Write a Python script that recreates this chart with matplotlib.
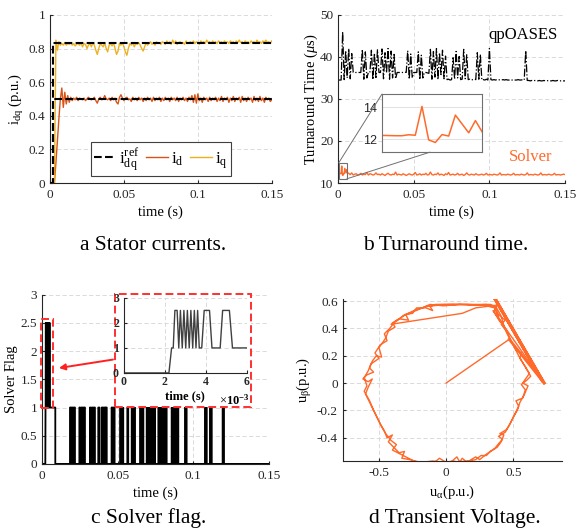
import matplotlib
matplotlib.use('Agg')
import matplotlib.pyplot as plt
import numpy as np
from matplotlib.patches import Rectangle, ConnectionPatch
from matplotlib.ticker import FormatStrFormatter

plt.rcParams['font.family'] = 'Liberation Serif'
plt.rcParams['mathtext.fontset'] = 'custom'
plt.rcParams['mathtext.rm'] = 'Liberation Serif'
plt.rcParams['mathtext.it'] = 'Liberation Serif:italic'
plt.rcParams['mathtext.bf'] = 'Liberation Serif:bold'
plt.rcParams['axes.unicode_minus'] = False

# ---- (a) stator currents, sampled every 1 ms ----
t_step = 0.001
iq = [0, 0, 0, 0, 0.85, 0.79, 0.84, 0.82, 0.83, 0.82,
      0.835, 0.82, 0.83, 0.825, 0.835, 0.82, 0.83, 0.815, 0.825, 0.83,
      0.82, 0.835, 0.81, 0.83, 0.825, 0.80, 0.82, 0.83, 0.81, 0.835,
      0.82, 0.79, 0.765, 0.80, 0.83, 0.82, 0.81, 0.835, 0.80, 0.78,
      0.82, 0.83, 0.815, 0.835, 0.80, 0.765, 0.785, 0.83, 0.82, 0.835,
      0.81, 0.78, 0.76, 0.80, 0.83, 0.82, 0.835, 0.81, 0.83, 0.825,
      0.835, 0.82, 0.80, 0.785, 0.81, 0.835, 0.82, 0.83, 0.84, 0.825,
      0.835, 0.82, 0.84, 0.83, 0.835, 0.825, 0.84, 0.835, 0.825, 0.845,
      0.83, 0.84, 0.825, 0.85, 0.83, 0.845, 0.825, 0.835, 0.84, 0.83,
      0.835, 0.825, 0.845, 0.83, 0.835, 0.84, 0.83, 0.845, 0.83, 0.84,
      0.835, 0.825, 0.845, 0.835, 0.84, 0.83, 0.85, 0.835, 0.84, 0.83,
      0.845, 0.835, 0.84, 0.83, 0.845, 0.835, 0.84, 0.83, 0.845, 0.835,
      0.84, 0.83, 0.845, 0.835, 0.84, 0.83, 0.845, 0.835, 0.85, 0.835,
      0.84, 0.83, 0.845, 0.835, 0.84, 0.83, 0.845, 0.835, 0.84, 0.83,
      0.85, 0.835, 0.84, 0.83, 0.845, 0.835, 0.85, 0.835, 0.84, 0.83,
      0.845]
i_d = [0, 0, 0, 0, 0.12, 0.25, 0.38, 0.50, 0.565, 0.45,
       0.54, 0.47, 0.52, 0.48, 0.51, 0.49, 0.505, 0.495, 0.51, 0.49,
       0.505, 0.50, 0.495, 0.505, 0.49, 0.50, 0.51, 0.50, 0.495, 0.50,
       0.51, 0.49, 0.475, 0.50, 0.51, 0.495, 0.50, 0.52, 0.50, 0.495,
       0.505, 0.49, 0.51, 0.495, 0.505, 0.48, 0.47, 0.51, 0.525, 0.505,
       0.49, 0.505, 0.51, 0.495, 0.50, 0.485, 0.51, 0.495, 0.505, 0.49,
       0.51, 0.495, 0.505, 0.485, 0.505, 0.49, 0.51, 0.495, 0.505, 0.485,
       0.51, 0.49, 0.505, 0.495, 0.51, 0.485, 0.505, 0.49, 0.51, 0.495,
       0.505, 0.485, 0.51, 0.495, 0.505, 0.49, 0.51, 0.485, 0.505, 0.495,
       0.51, 0.49, 0.505, 0.485, 0.51, 0.495, 0.52, 0.48, 0.525, 0.475,
       0.53, 0.49, 0.505, 0.48, 0.51, 0.495, 0.505, 0.485, 0.51, 0.49,
       0.505, 0.495, 0.51, 0.485, 0.505, 0.49, 0.515, 0.485, 0.505, 0.495,
       0.51, 0.48, 0.505, 0.49, 0.515, 0.485, 0.505, 0.495, 0.51, 0.48,
       0.515, 0.49, 0.505, 0.485, 0.51, 0.495, 0.505, 0.48, 0.515, 0.49,
       0.505, 0.485, 0.515, 0.49, 0.505, 0.48, 0.51, 0.495, 0.505, 0.485,
       0.495]
ref_t = [0, 0.002, 0.002, 0.15]
ref_q = [0, 0, 0.833, 0.833]
ref_d = [0, 0, 0.5, 0.5]

# ---- (b) turnaround time (us), 1 ms samples ----
qp_time = [34.5, 34.5, 34.5, 46.0, 34.6, 41.5, 35.0, 42.0, 34.8, 40.8,
           36.3, 36.3, 36.3, 36.3, 36.3, 36.3, 41.8, 34.7, 41.2, 35.0,
           36.3, 36.3, 41.6, 34.6, 40.9, 35.1, 41.7, 36.3, 36.3, 41.9,
           34.8, 41.0, 36.2, 42.0, 34.7, 41.4, 35.0, 40.6, 34.8, 36.3,
           36.3, 36.3, 36.3, 36.3, 36.4, 36.3, 41.5, 34.7, 40.7, 35.0,
           36.3, 36.3, 36.3, 41.2, 34.6, 40.4, 35.0, 36.3, 36.3, 36.2,
           36.1, 41.8, 34.7, 41.3, 35.2, 42.0, 34.6, 41.0, 35.8, 41.6,
           34.8, 40.2, 34.6, 34.7, 34.5, 34.6, 39.8, 34.7, 41.3, 35.0,
           40.1, 34.6, 34.7, 41.8, 34.8, 40.5, 34.6, 34.7, 34.5, 34.6,
           34.7, 34.6, 41.0, 34.7, 40.6, 34.5, 34.6, 34.5, 34.7, 34.5,
           42.0, 34.6, 34.5, 34.6, 34.5, 34.6, 34.5, 34.6, 34.5, 34.6,
           34.5, 34.6, 34.5, 34.5, 34.6, 34.5, 34.6, 34.5, 34.5, 34.6,
           34.5, 34.5, 34.6, 34.5, 41.5, 34.4, 34.4, 34.3, 34.4, 34.3,
           34.4, 34.3, 34.3, 34.4, 34.3, 34.3, 34.4, 34.3, 34.3, 34.4,
           34.3, 34.3, 34.4, 34.3, 34.3, 34.4, 34.3, 34.3, 34.4, 34.3,
           34.3]
# solver: first 6 ms sampled every 0.4 ms, then every 1 ms from 7 ms
solver_early = [12.24, 12.23, 12.22, 12.22, 12.28, 12.25, 14.04, 11.96,
                11.80, 12.29, 12.20, 13.50, 12.95, 12.40, 13.16, 12.46]
solver_late = [12.3, 12.0, 12.4, 11.9, 12.1, 12.2, 11.9, 12.0, 12.3, 11.9,
               12.1, 12.0, 12.5, 11.9, 12.2, 12.1, 11.9, 12.0, 12.4, 12.0,
               12.1, 11.9, 12.2, 12.0, 11.8, 12.1, 12.3, 12.0, 11.9, 12.1,
               12.0, 12.6, 11.9, 12.1, 12.0, 11.9, 12.2, 12.0, 11.8, 12.0,
               12.2, 12.0, 11.9, 12.1, 12.5, 11.9, 12.0, 12.2, 11.9, 12.1,
               12.0, 12.3, 11.9, 12.0, 12.6, 12.0, 11.9, 12.1, 12.0, 12.4,
               11.9, 12.1, 12.0, 11.8, 12.2, 12.0, 12.5, 11.9, 12.0, 12.1,
               11.9, 12.0, 12.3, 11.9, 12.0, 12.1, 11.8, 12.0, 12.4, 12.0,
               11.9, 12.1, 12.0, 11.9, 12.2, 12.0, 11.9, 12.0, 12.1, 11.9,
               12.0, 12.3, 11.9, 12.0, 12.0, 11.9, 12.1, 12.0, 11.9, 12.0,
               12.4, 11.9, 12.0, 12.0, 11.9, 12.1, 12.0, 11.9, 12.0, 12.3,
               11.9, 12.0, 12.0, 11.9, 12.1, 12.0, 11.9, 12.0, 12.4, 11.9,
               12.0, 12.0, 11.9, 12.1, 12.0, 11.9, 12.0, 12.4, 11.9, 12.0,
               12.0, 11.9, 12.1, 12.0, 11.9, 12.0, 12.3, 11.9, 12.0, 12.0,
               11.9, 12.0, 12.1, 12.0]

# ---- (c) solver flag ----
burst_t_ms = [0, 2.2, 2.33, 2.41, 2.49, 2.60, 2.68, 2.76, 2.85, 2.93, 3.02, 3.10,
              3.19, 3.27, 3.36, 3.44, 3.52, 3.60, 3.68, 3.80, 3.92, 4.18, 4.30,
              4.70, 4.82, 5.15, 5.30, 6.0]
burst_flag = [0, 0, 1, 1, 2.5, 2.5, 1, 2.5, 1, 2.5, 1, 2.5, 1, 2.5, 1, 2.5, 1,
              2.5, 1, 1, 2.5, 2.5, 1, 1, 2.5, 2.5, 1, 1]
pulse_on = [0.0185, 0.0198, 0.0210, 0.0247, 0.0260, 0.0275, 0.0317, 0.0330,
            0.0343, 0.0372, 0.0395, 0.0412, 0.0423, 0.0460, 0.0473, 0.0516,
            0.0530, 0.0564, 0.0593, 0.0608, 0.0648, 0.0663, 0.0692, 0.0705,
            0.0718, 0.0730, 0.0742, 0.0769, 0.0791, 0.0803, 0.0816, 0.0857,
            0.0879, 0.0893, 0.0945, 0.1077, 0.1110, 0.1194]
pulse_off = [0.0192, 0.0203, 0.0218, 0.0252, 0.0268, 0.0284, 0.0322, 0.0336,
             0.0350, 0.0380, 0.0405, 0.0418, 0.0428, 0.0466, 0.0480, 0.0522,
             0.0537, 0.0570, 0.0600, 0.0615, 0.0655, 0.0670, 0.0698, 0.0712,
             0.0725, 0.0738, 0.0747, 0.0780, 0.0797, 0.0810, 0.0824, 0.0868,
             0.0885, 0.0901, 0.0956, 0.1089, 0.1122, 0.1203]

# ---- (d) transient voltage trajectory ----
u_alpha = [0.00, 0.47, 0.73, 0.36, 0.72, 0.37, 0.73, 0.35, 0.40, 0.43, 0.41, 0.37, 0.33,
           0.20, 0.05, -0.08, -0.12, -0.10, -0.15, -0.22, -0.25, -0.30, -0.28, -0.35, -0.40,
           -0.38, -0.43, -0.45, -0.47, -0.50, -0.48, -0.52, -0.55, -0.57, -0.54, -0.59, -0.62,
           -0.58, -0.55, -0.58, -0.60, -0.58, -0.55, -0.52, -0.49, -0.46, -0.44, -0.40, -0.43,
           -0.39, -0.35, -0.31, -0.33, -0.27, -0.22, -0.15, -0.08, -0.05, 0.00, 0.05, 0.10,
           0.12, 0.15, 0.22, 0.26, 0.30, 0.33, 0.38, 0.41, 0.43, 0.40, 0.45, 0.48, 0.51,
           0.54, 0.52, 0.57, 0.59, 0.56, 0.60, 0.63, 0.60, 0.57, 0.54, 0.51, 0.47, 0.44,
           0.41, 0.44, 0.39, 0.36, 0.30,
           0.18, 0.10, -0.02, -0.12, -0.18, -0.24, -0.32, -0.38, -0.42, -0.46, -0.44, -0.49,
           -0.53, -0.50, -0.56, -0.58, -0.61, -0.59, -0.61, -0.57, -0.54, -0.51, -0.48, -0.45,
           -0.41, -0.37, -0.40, -0.34, -0.29, -0.24, -0.18, -0.10, -0.03, 0.04, 0.08, 0.10,
           0.17, 0.22, 0.25, 0.30, 0.36, 0.42, 0.39, 0.44, 0.47, 0.50, 0.53, 0.55, 0.58,
           0.61, 0.57, 0.62, 0.59, 0.55, 0.56, 0.52, 0.49, 0.46, 0.43, 0.39, 0.36, 0.28,
           0.15, -0.05, -0.15, -0.25, -0.31, -0.36, -0.41, 0.12, 0.22, 0.38, 0.36]
u_beta = [0.00, 0.32, 0.00, 0.62, 0.01, 0.61, 0.00, 0.53, 0.45, 0.42, 0.49, 0.56, 0.575,
          0.575, 0.578, 0.575, 0.56, 0.53, 0.55, 0.55, 0.51, 0.50, 0.46, 0.47, 0.44,
          0.41, 0.38, 0.33, 0.30, 0.26, 0.19, 0.20, 0.16, 0.11, 0.08, 0.06, 0.03,
          0.01, 0.03, -0.03, -0.08, -0.12, -0.18, -0.24, -0.30, -0.35, -0.40, -0.38, -0.43,
          -0.47, -0.51, -0.50, -0.55, -0.56, -0.575, -0.58, -0.575, -0.55, -0.58, -0.57, -0.58,
          -0.55, -0.575, -0.56, -0.53, -0.53, -0.50, -0.47, -0.43, -0.38, -0.37, -0.34, -0.29, -0.23,
          -0.17, -0.13, -0.11, -0.05, -0.01, 0.02, 0.05, 0.10, 0.15, 0.20, 0.26, 0.33, 0.39,
          0.43, 0.46, 0.50, 0.56, 0.575,
          0.57, 0.575, 0.565, 0.575, 0.55, 0.53, 0.49, 0.45, 0.40, 0.36, 0.31, 0.28,
          0.22, 0.18, 0.14, 0.09, 0.04, -0.02, -0.06, -0.13, -0.20, -0.26, -0.32, -0.37,
          -0.42, -0.45, -0.49, -0.52, -0.545, -0.57, -0.58, -0.57, -0.58, -0.575, -0.54, -0.575,
          -0.57, -0.54, -0.56, -0.52, -0.48, -0.41, -0.39, -0.36, -0.31, -0.25, -0.20, -0.14, -0.09,
          -0.02, 0.00, 0.07, 0.12, 0.18, 0.22, 0.24, 0.30, 0.36, 0.42, 0.48, 0.55, 0.57,
          0.575, 0.57, 0.56, 0.52, 0.50, 0.46, 0.43, 0.51, 0.55, 0.57, 0.53]

col_d = '#D95319'
col_q = '#EDB120'
col_or = '#FF6A2B'
grid_kw = dict(color='#d4d4d4', linestyle=(0, (5, 3)), linewidth=0.6)


def style(ax, fs=9.5, pad=4.5):
    ax.spines[['top', 'right']].set_visible(False)
    for s in ['left', 'bottom']:
        ax.spines[s].set_color('#262626')
        ax.spines[s].set_linewidth(0.8)
    ax.tick_params(direction='in', length=2.5, labelsize=fs, colors='#262626')
    ax.tick_params(axis='x', pad=pad)
    ax.grid(True, **grid_kw)
    ax.set_axisbelow(True)


fig = plt.figure(figsize=(5.76, 5.32), dpi=100)

# (a)
ax_a = fig.add_axes([0.0868, 0.656, 0.385, 0.316])
t_a = np.arange(len(iq)) * t_step
l_ref, = ax_a.plot(ref_t, ref_q, '--', color='black', lw=1.5, zorder=4)
ax_a.plot(ref_t, ref_d, '--', color='black', lw=1.5, zorder=4)
l_d, = ax_a.plot(t_a, i_d, color=col_d, lw=1.0)
l_q, = ax_a.plot(t_a, iq, color=col_q, lw=1.0)
ax_a.set_xlim(0, 0.15)
ax_a.set_ylim(0, 1)
ax_a.set_xticks([0, 0.05, 0.1, 0.15])
ax_a.set_yticks([0, 0.2, 0.4, 0.6, 0.8, 1])
ax_a.xaxis.set_major_formatter(FormatStrFormatter('%g'))
ax_a.yaxis.set_major_formatter(FormatStrFormatter('%g'))
style(ax_a)
ax_a.set_xlabel('time (s)', fontsize=10.5, labelpad=3)
ax_a.set_ylabel(r'$\mathrm{i_{dq}}$ (p.u.)', fontsize=10.5, labelpad=2)
leg = ax_a.legend([l_ref, l_d, l_q],
                  [r'$\mathrm{i_{dq}^{ref}}$', r'$\mathrm{i_d}$', r'$\mathrm{i_q}$'],
                  ncol=3, loc='lower center', bbox_to_anchor=(0.5, 0.04),
                  fontsize=12.5, handlelength=1.25, columnspacing=0.4, handletextpad=0.15,
                  borderpad=0.2, borderaxespad=0, fancybox=False, framealpha=1)
leg.get_frame().set_edgecolor('#404040')
leg.get_frame().set_linewidth(0.8)

# (b)
ax_b = fig.add_axes([0.587, 0.656, 0.394, 0.316])
t_b = np.arange(len(qp_time)) * t_step
ax_b.plot(t_b, qp_time, '-.', color='black', lw=0.9)
t_early = np.arange(len(solver_early)) * 0.0004
t_late = 0.007 + np.arange(len(solver_late)) * t_step
t_sol = np.concatenate([t_early, t_late])
v_sol = solver_early + solver_late
ax_b.plot(t_sol, v_sol, color=col_or, lw=1.0)
ax_b.set_xlim(0, 0.15)
ax_b.set_ylim(10, 50)
ax_b.set_xticks([0, 0.05, 0.1, 0.15])
ax_b.set_yticks([10, 20, 30, 40, 50])
ax_b.xaxis.set_major_formatter(FormatStrFormatter('%g'))
style(ax_b)
ax_b.set_xlabel('time (s)', fontsize=10.5, labelpad=3)
ax_b.set_ylabel(r'Turnaround Time ($\mu$s)', fontsize=10.5, labelpad=0)
ax_b.text(0.122, 45.1, 'qpOASES', fontsize=12, ha='center', va='center', color='black')
ax_b.text(0.127, 16.2, 'Solver', fontsize=12, ha='center', va='center', color=col_or)
ax_b.add_patch(Rectangle((0.0004, 11.0), 0.0054, 3.8, fill=False,
                         edgecolor='#707070', lw=0.8, zorder=5))

ax_bi = fig.add_axes([0.663, 0.714, 0.174, 0.109])
ax_bi.plot(t_early, solver_early, color=col_or, lw=1.1)
ax_bi.set_xlim(0, 0.006)
ax_bi.set_ylim(11.2, 14.8)
ax_bi.set_xticks([])
ax_bi.set_yticks([12, 14])
ax_bi.grid(True, axis='y', color='#dcdcdc', lw=0.6)
for lab in ax_bi.get_yticklabels():
    lab.set_fontfamily('Liberation Sans')
ax_bi.tick_params(labelsize=9, length=0, colors='#262626')
for s in ax_bi.spines.values():
    s.set_color('#707070')
    s.set_linewidth(0.8)
for xa, ya, xb, yb in [(0.0004, 14.8, 0, 1), (0.0058, 11.0, 0.48, 0)]:
    fig.add_artist(ConnectionPatch(xyA=(xa, ya), coordsA=ax_b.transData,
                                   xyB=(xb, yb), coordsB=ax_bi.transAxes,
                                   color='#707070', lw=0.7))

# (c)
ax_c = fig.add_axes([0.0729, 0.128, 0.394, 0.318])
ft = [x * 1e-3 for x in burst_t_ms] + [0.0088, 0.0088]
fv = list(burst_flag) + [1, 0]
for s, e in zip(pulse_on, pulse_off):
    ft += [s, s, e, e]
    fv += [0, 1, 1, 0]
ft.append(0.15)
fv.append(0)
ax_c.plot(ft, fv, color='black', lw=1.3)
ax_c.set_xlim(0, 0.15)
ax_c.set_ylim(0, 3)
ax_c.set_xticks([0, 0.05, 0.1, 0.15])
ax_c.set_yticks([0, 0.5, 1, 1.5, 2, 2.5, 3])
ax_c.xaxis.set_major_formatter(FormatStrFormatter('%g'))
ax_c.yaxis.set_major_formatter(FormatStrFormatter('%g'))
style(ax_c)
ax_c.set_xlabel('time (s)', fontsize=10.5, labelpad=3)
ax_c.set_ylabel('Solver Flag', fontsize=10.5, labelpad=2)
ax_c.add_patch(Rectangle((-0.0008, 1.0), 0.0083, 1.57, fill=False, edgecolor='#ff3030',
                         lw=1.4, ls=(0, (4, 2)), clip_on=False, zorder=5))
ax_c.add_patch(Rectangle((0.1997, 0.235), 0.236, 0.2124, transform=fig.transFigure,
                         facecolor='white', edgecolor='#ff3030', lw=1.4, ls=(0, (4, 2)),
                         clip_on=False, zorder=6))
ax_c.annotate('', xy=(0.0112, 1.70), xytext=(0.0469, 1.85),
              arrowprops=dict(arrowstyle='-|>', color='#ff2020', lw=1.4,
                              mutation_scale=9, shrinkA=0, shrinkB=0), zorder=7)

ax_ci = fig.add_axes([0.215, 0.299, 0.2135, 0.141])
ax_ci.plot(burst_t_ms, burst_flag, color='#404040', lw=1.0)
ax_ci.set_xlim(0, 6)
ax_ci.set_ylim(0, 3)
ax_ci.set_xticks([0, 2, 4, 6])
ax_ci.set_yticks([0, 1, 2, 3])
style(ax_ci, fs=8.5, pad=2)
for lab in ax_ci.get_xticklabels() + ax_ci.get_yticklabels():
    lab.set_fontweight('bold')
ax_ci.set_xlabel('time (s)', fontsize=9, fontweight='bold', labelpad=2)
ax_ci.text(1.02, -0.36, r'$\times\mathbf{10^{-3}}$', transform=ax_ci.transAxes,
           ha='right', va='center', fontsize=9)

# (d)
ax_d = fig.add_axes([0.595, 0.1335, 0.380, 0.3045])
ax_d.plot(u_alpha[:2], u_beta[:2], color=col_or, lw=1.0)
ax_d.plot(u_alpha[1:7], u_beta[1:7], color=col_or, lw=2.0)
ax_d.plot(u_alpha[6:], u_beta[6:], color=col_or, lw=1.0)
ax_d.set_xlim(-0.77, 0.86)
ax_d.set_ylim(-0.57, 0.615)
ax_d.set_xticks([-0.5, 0, 0.5])
ax_d.set_yticks([-0.4, -0.2, 0, 0.2, 0.4, 0.6])
ax_d.xaxis.set_major_formatter(FormatStrFormatter('%g'))
ax_d.yaxis.set_major_formatter(FormatStrFormatter('%g'))
style(ax_d)
ax_d.set_xlabel(r'$\mathrm{u_\alpha}$(p.u.)', fontsize=10.5, labelpad=3)
ax_d.set_ylabel(r'$\mathrm{u_\beta}$(p.u.)', fontsize=10.5, labelpad=2)

# captions
fig.text(0.266, 0.539, 'a Stator currents.', ha='center', va='center', fontsize=15.5)
fig.text(0.773, 0.539, 'b Turnaround time.', ha='center', va='center', fontsize=15.5)
fig.text(0.258, 0.026, 'c Solver flag.', ha='center', va='center', fontsize=15.5)
fig.text(0.789, 0.026, 'd Transient Voltage.', ha='center', va='center', fontsize=15.5)

fig.savefig('out.png', dpi=100)
